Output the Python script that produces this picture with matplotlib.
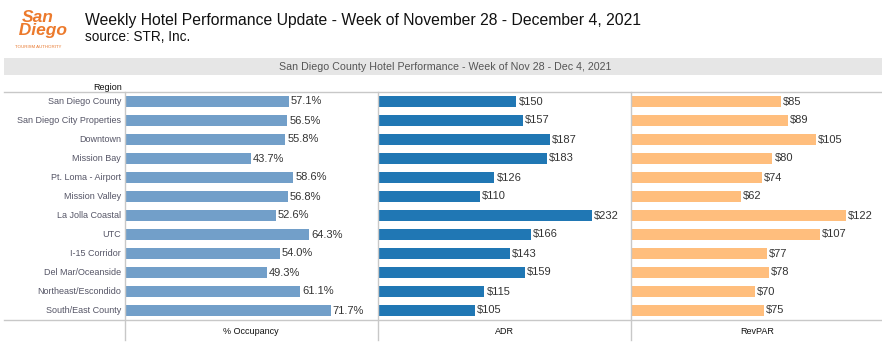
import matplotlib.pyplot as plt
from matplotlib.lines import Line2D
from matplotlib.patches import Rectangle

regions = ["San Diego County", "San Diego City Properties", "Downtown", "Mission Bay",
           "Pt. Loma - Airport", "Mission Valley", "La Jolla Coastal", "UTC",
           "I-15 Corridor", "Del Mar/Oceanside", "Northeast/Escondido", "South/East County"]
occupancy = [57.1, 56.5, 55.8, 43.7, 58.6, 56.8, 52.6, 64.3, 54.0, 49.3, 61.1, 71.7]
adr = [150, 157, 187, 183, 126, 110, 232, 166, 143, 159, 115, 105]
revpar = [85, 89, 105, 80, 74, 62, 122, 107, 77, 78, 70, 75]

W, H = 882, 343
fig = plt.figure(figsize=(W / 100, H / 100), dpi=100)
plt.rcParams['font.family'] = ['Liberation Sans', 'DejaVu Sans']


def fx(px):
    return px / W


def fy(py):
    return 1 - py / H


grid_c = "#c8c8c8"

# title block
fig.text(fx(85), fy(20), "Weekly Hotel Performance Update - Week of November 28 - December 4, 2021",
         fontsize=11.3, va="center", ha="left", color="#111111")
fig.text(fx(85), fy(37), "source: STR, Inc.", fontsize=9.8, va="center", ha="left", color="#111111")

# logo (text approximation)
fig.text(fx(38), fy(24), "San\n  Diego", fontsize=12.5, fontweight="bold", style="italic",
         color="#ec7a2c", ha="center", va="center", linespacing=0.75)
fig.text(fx(38), fy(47), "TOURISM AUTHORITY", fontsize=3.2, color="#e8762b", ha="center", va="center")

# header band
fig.patches.append(Rectangle((fx(4), fy(75)), fx(878), 17 / H, transform=fig.transFigure,
                             facecolor="#e6e6e6", edgecolor="none"))
fig.text(fx(445), fy(67), "San Diego County Hotel Performance - Week of Nov 28 - Dec 4, 2021",
         fontsize=7.7, ha="center", va="center", color="#555555")

fig.text(fx(108), fy(87), "Region", fontsize=6.5, ha="center", va="center", color="#111111")

# grid lines
fig.add_artist(Line2D([fx(4), fx(882)], [fy(92), fy(92)], color=grid_c, lw=1))
fig.add_artist(Line2D([fx(4), fx(882)], [fy(320), fy(320)], color=grid_c, lw=1))
for xv in [125, 378, 631]:
    fig.add_artist(Line2D([fx(xv), fx(xv)], [fy(92), fy(340)], color=grid_c, lw=1))

panels = [
    (125, occupancy, "#729fc9", 88, "{:.1f}%", "% Occupancy"),
    (378, adr, "#2077b4", 274, "${:.0f}", "ADR"),
    (631, revpar, "#ffbe7d", 143, "${:.0f}", "RevPAR"),
]

for x0, vals, col, xmax, fmt, label in panels:
    ax = fig.add_axes([fx(x0 + 1), fy(320), fx(251), 228 / H])
    ypos = list(range(len(vals)))
    ax.barh(ypos, vals, height=0.55, color=col)
    for yi, v in zip(ypos, vals):
        ax.text(v + xmax * 0.008, yi, fmt.format(v), va="center", ha="left",
                fontsize=8, color="#333333")
    ax.set_xlim(0, xmax)
    ax.set_ylim(len(vals) - 0.5, -0.5)
    ax.axis("off")
    fig.text(fx(x0 + 126), fy(331), label, fontsize=6.5, ha="center", va="center", color="#111111")

for i, r in enumerate(regions):
    fig.text(fx(121), fy(101.5 + 19 * i), r, fontsize=6.5, ha="right", va="center", color="#555566")

fig.savefig("out.png", dpi=100)
